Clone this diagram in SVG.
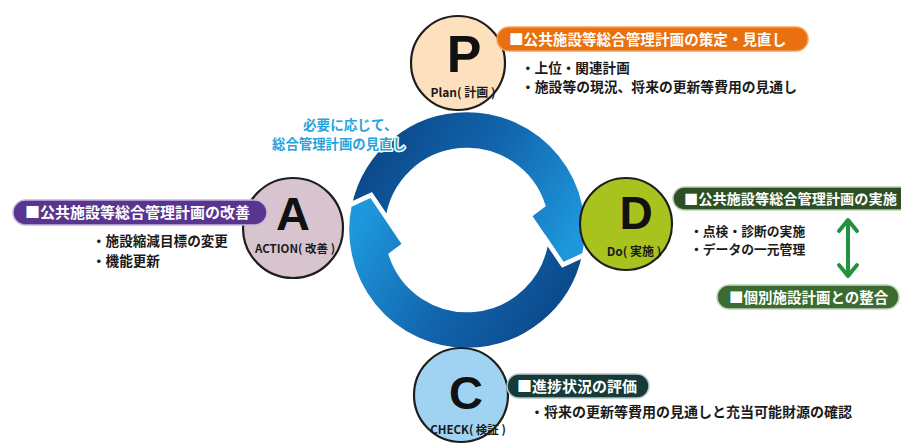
<svg xmlns="http://www.w3.org/2000/svg" xmlns:xlink="http://www.w3.org/1999/xlink" width="901" height="445" viewBox="0 0 901 445">
<style>
.jp{font-family:'Noto Sans CJK JP',sans-serif;font-weight:bold;}
.pill-t{fill:#ffffff;}
.bul{fill:#1a1a1a;}
.node{stroke:#1e1e1e;stroke-width:2.2;}
.big{font-family:'Liberation Sans',Arial,sans-serif;font-weight:bold;fill:#111;text-anchor:middle;}
.sub{fill:#1a1a1a;text-anchor:middle;}
.blue{fill:#27a4de;stroke:#ffffff;stroke-width:3;paint-order:stroke;stroke-linejoin:round;}
</style>
<defs>
<linearGradient id="gArrow" x1="0" y1="0.3" x2="1" y2="0.7">
<stop offset="0" stop-color="#0a4585"/>
<stop offset="0.5" stop-color="#1264ac"/>
<stop offset="1" stop-color="#1e97dc"/>
</linearGradient>
<path id="arrow" d="M 349.6 205.1 A 120 120 0 0 1 467 110 A 120 120 0 0 1 584.4 254.9 L 562.9 264.9 L 529.4 215.6 L 543.1 205.3 A 80 80 0 0 0 387.7 219.5 L 371.15 195.1 Z"/>
</defs>
<rect width="901" height="445" fill="#ffffff"/>
<g id="connectors">
<use xlink:href="#arrow" fill="url(#gArrow)" stroke="#ffffff" stroke-width="4.5" stroke-linejoin="miter"/>
<use xlink:href="#arrow" fill="url(#gArrow)" stroke="#ffffff" stroke-width="4.5" stroke-linejoin="miter" transform="rotate(180 467 230)"/>
<g stroke="#23923f" stroke-width="4" fill="none" stroke-linecap="round" stroke-linejoin="round">
<line x1="848" y1="221" x2="848" y2="275"/>
<polyline points="839,231 848,220 857,231"/>
<polyline points="839,265 848,276 857,265"/>
</g>
</g>
<g id="note">
<text class="jp blue" x="303" y="130" font-size="13.6">必要に応じて、</text>
<text class="jp blue" x="272" y="149" font-size="13.4">総合管理計画の見直し</text>
</g>
<g id="node-plan">
<circle class="node" cx="458" cy="63" r="47" fill="#fde1bf"/>
<text class="big" x="464" y="72" font-size="52">P</text>
<text class="jp sub" x="463" y="97" font-size="12">Plan( 計画 )</text>
<rect x="497" y="27" width="311" height="24" rx="12" fill="#e8700f" stroke="#f4a35c" stroke-width="1.5"/>
<text class="jp pill-t" x="509" y="45" font-size="14.6">■公共施設等総合管理計画の策定・見直し</text>
<text class="jp bul" x="521" y="73" font-size="13.6">・上位・関連計画</text>
<text class="jp bul" x="521" y="92" font-size="13.8">・施設等の現況、将来の更新等費用の見通し</text>
</g>
<g id="node-action">
<circle class="node" cx="293" cy="228" r="50" fill="#d8c4cf"/>
<text class="big" x="293" y="230" font-size="47">A</text>
<text class="jp sub" x="295" y="253" font-size="11.5">ACTION( 改善 )</text>
<rect x="13" y="200" width="254" height="25" rx="12.5" fill="#5a3590" stroke="#c8b6e0" stroke-width="1.5"/>
<text class="jp pill-t" x="25" y="218" font-size="15">■公共施設等総合管理計画の改善</text>
<text class="jp bul" x="92" y="246" font-size="13.6">・施設縮減目標の変更</text>
<text class="jp bul" x="92" y="266" font-size="13.6">・機能更新</text>
</g>
<g id="node-do">
<circle class="node" cx="626" cy="224" r="46" fill="#a9c31e"/>
<text class="big" x="636" y="229" font-size="46">D</text>
<text class="jp sub" x="634" y="256" font-size="12">Do( 実施 )</text>
<rect x="673" y="187" width="240" height="23" rx="11.5" fill="#2c4f25" stroke="#b9cdb0" stroke-width="1.5"/>
<text class="jp pill-t" x="684" y="204" font-size="14.2">■公共施設等総合管理計画の実施</text>
<text class="jp bul" x="690" y="236" font-size="12.8">・点検・診断の実施</text>
<text class="jp bul" x="690" y="254" font-size="12.8">・データの一元管理</text>
</g>
<g id="node-align">
<rect x="717" y="285" width="182" height="24" rx="12" fill="#3a6b30" stroke="#c0d4b6" stroke-width="1.5"/>
<text class="jp pill-t" x="729" y="303" font-size="14.5">■個別施設計画との整合</text>
</g>
<g id="node-check">
<circle class="node" cx="461" cy="395" r="47" fill="#a0d3f1"/>
<text class="big" x="466" y="409" font-size="47">C</text>
<text class="jp sub" x="468" y="434" font-size="11.5">CHECK( 検証 )</text>
<rect x="507" y="374" width="142" height="24" rx="12" fill="#163a38" stroke="#b8c8c8" stroke-width="1.5"/>
<text class="jp pill-t" x="517" y="392" font-size="15">■進捗状況の評価</text>
<text class="jp bul" x="530" y="417" font-size="14">・将来の更新等費用の見通しと充当可能財源の確認</text>
</g>
</svg>
